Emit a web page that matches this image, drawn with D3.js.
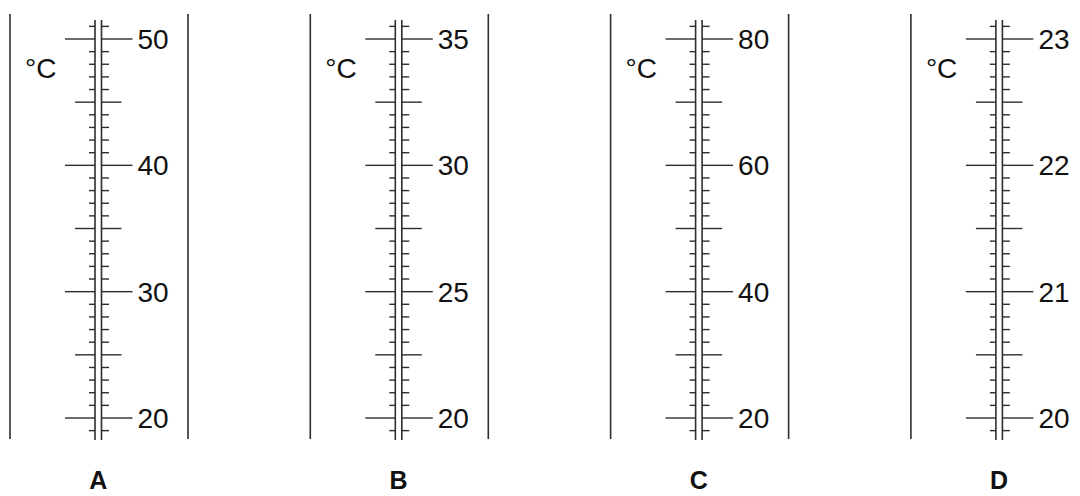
<!DOCTYPE html>
<html>
<head>
<meta charset="utf-8">
<script src="https://d3js.org/d3.v7.min.js"></script>
<style>
    body { margin: 0; background: #ffffff; }
    svg { display: block; font-family: "Liberation Sans", Arial, sans-serif; }
</style>
</head>
<body>
<svg id="canvas"></svg>
<script>
"use strict"

// Chart data: one thermometer scale per panel
const panelNames = ["A", "B", "C", "D"];
const scaleMins = [20, 20, 20, 20];
const scaleMaxs = [50, 35, 80, 23];
const majorSteps = [10, 5, 20, 1];
const unitLabel = "°C";

// Static sizes
const canvasWidth = 1080;
const canvasHeight = 496;
const panelSpacing = 300.3;
const lineColor = "#2e2e2e";
const textColor = "#111111";

const canvas = d3.select("#canvas")
    .attr("width", canvasWidth)
    .attr("height", canvasHeight);

panelNames.forEach((name, i) => drawPanel(i));

// Draw one thermometer panel
function drawPanel(i) {
    const panel = {
        x : 10 + i * panelSpacing,
        frameTop : 14,
        frameBottom : 439,
        frameRight : 178,
        tubeLeft : 85,
        tubeRight : 91.5,
        tubeTop : 20,
        tubeBottom : 440
    };

    const g = canvas.append("g")
        .attr("transform", `translate(${panel.x},0)`);

    const min = scaleMins[i];
    const max = scaleMaxs[i];
    const step = majorSteps[i];
    const minorStep = step / 10;

    // Value scale (same pixel spacing for all panels)
    const y = d3.scaleLinear()
        .domain([min, max])
        .range([418, 39]);

    // Frame lines
    [0, panel.frameRight].forEach(fx => {
        g.append("line")
            .attr("x1", fx).attr("x2", fx)
            .attr("y1", panel.frameTop).attr("y2", panel.frameBottom)
            .attr("stroke", lineColor)
            .attr("stroke-width", 1.6);
    });

    // Tube lines
    [panel.tubeLeft, panel.tubeRight].forEach(tx => {
        g.append("line")
            .attr("x1", tx).attr("x2", tx)
            .attr("y1", panel.tubeTop).attr("y2", panel.tubeBottom)
            .attr("stroke", lineColor)
            .attr("stroke-width", 1.6);
    });

    // Tick values, one minor step beyond each end
    const count = Math.round((max - min) / minorStep);
    const ticks = d3.range(-1, count + 2).map(k => ({
        k : k,
        value : min + k * minorStep
    }));

    const tickLength = k => (k % 10 === 0) ? [30, 31] : (k % 5 === 0) ? [20, 20] : [6, 7.5];

    const tickGroup = g.append("g")
        .attr("stroke", lineColor)
        .attr("stroke-width", 1.4);

    // Left side ticks
    tickGroup.selectAll("line.left")
        .data(ticks)
        .enter()
        .append("line")
        .attr("class", "left")
        .attr("x1", d => panel.tubeLeft - tickLength(d.k)[0])
        .attr("x2", panel.tubeLeft)
        .attr("y1", d => y(d.value))
        .attr("y2", d => y(d.value));

    // Right side ticks
    tickGroup.selectAll("line.right")
        .data(ticks)
        .enter()
        .append("line")
        .attr("class", "right")
        .attr("x1", panel.tubeRight)
        .attr("x2", d => panel.tubeRight + tickLength(d.k)[1])
        .attr("y1", d => y(d.value))
        .attr("y2", d => y(d.value));

    // Major tick labels
    const majors = d3.range(min, max + step / 2, step);
    g.selectAll("text.label")
        .data(majors)
        .enter()
        .append("text")
        .attr("class", "label")
        .text(d => d3.format("d")(d))
        .attr("x", panel.tubeRight + 36)
        .attr("y", d => y(d) + 10)
        .attr("fill", textColor)
        .attr("font-size", "28px");

    // Unit label
    g.append("text")
        .text(unitLabel)
        .attr("x", 15)
        .attr("y", 78)
        .attr("fill", textColor)
        .attr("font-size", "28px");

    // Panel letter
    g.append("text")
        .text(panelNames[i])
        .attr("x", (panel.tubeLeft + panel.tubeRight) / 2)
        .attr("y", 489)
        .attr("text-anchor", "middle")
        .attr("fill", textColor)
        .attr("font-weight", "bold")
        .attr("font-size", "25px");
}
</script>
</body>
</html>
